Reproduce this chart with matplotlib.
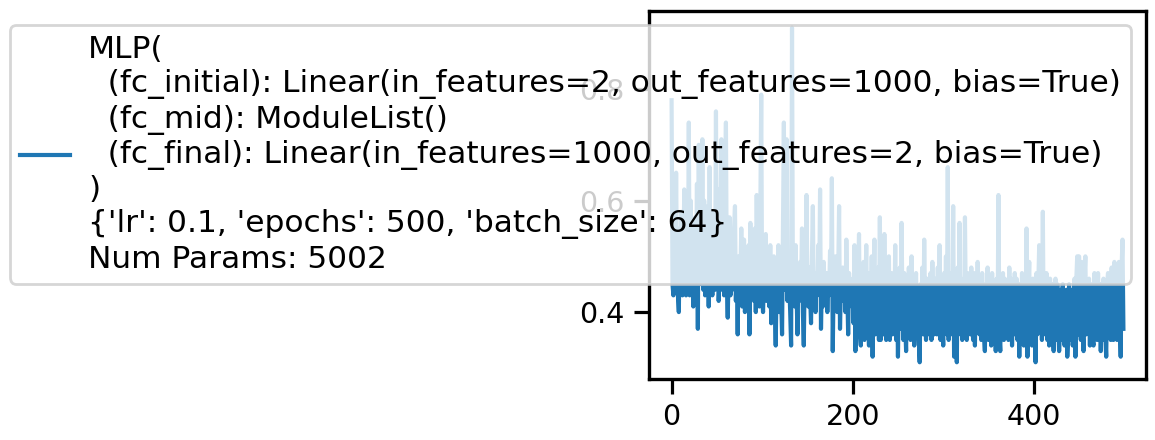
import matplotlib
matplotlib.use("Agg")
import matplotlib.pyplot as plt
import numpy as np

# ---- data ----
loss_values = [
    0.78, 0.45, 0.43, 0.52, 0.44, 0.65, 0.47, 0.43, 0.40, 0.55,
    0.44, 0.58, 0.43, 0.49, 0.62, 0.45, 0.43, 0.56, 0.44, 0.74,
    0.43, 0.60, 0.46, 0.52, 0.41, 0.48, 0.57, 0.44, 0.63, 0.37,
    0.70, 0.45, 0.55, 0.47, 0.71, 0.44, 0.60, 0.43, 0.51, 0.46,
    0.59, 0.41, 0.66, 0.44, 0.50, 0.43, 0.58, 0.47, 0.44, 0.76,
    0.45, 0.62, 0.42, 0.47, 0.55, 0.71, 0.44, 0.52, 0.43, 0.60,
    0.74, 0.45, 0.39, 0.48, 0.57, 0.43, 0.51, 0.44, 0.46, 0.55,
    0.59, 0.42, 0.48, 0.36, 0.50, 0.44, 0.47, 0.55, 0.41, 0.46,
    0.53, 0.40, 0.44, 0.49, 0.42, 0.52, 0.36, 0.56, 0.43, 0.47,
    0.50, 0.42, 0.55, 0.40, 0.61, 0.44, 0.46, 0.41, 0.58, 0.79,
    0.43, 0.40, 0.47, 0.44, 0.54, 0.42, 0.49, 0.45, 0.41, 0.52,
    0.38, 0.47, 0.43, 0.50, 0.41, 0.34, 0.46, 0.44, 0.52, 0.40,
    0.48, 0.43, 0.36, 0.55, 0.74, 0.44, 0.47, 0.71, 0.42, 0.50,
    0.45, 0.40, 0.34, 0.91, 0.44, 0.47, 0.41, 0.52, 0.44, 0.36,
    0.46, 0.42, 0.49, 0.44, 0.55, 0.40, 0.34, 0.47, 0.43, 0.61,
    0.44, 0.41, 0.48, 0.43, 0.38, 0.50, 0.59, 0.42, 0.45, 0.40,
    0.47, 0.43, 0.52, 0.44, 0.62, 0.37, 0.46, 0.41, 0.49, 0.44,
    0.42, 0.47, 0.40, 0.45, 0.43, 0.51, 0.44, 0.64, 0.33, 0.46,
    0.42, 0.50, 0.44, 0.40, 0.47, 0.59, 0.37, 0.45, 0.42, 0.48,
    0.43, 0.46, 0.40, 0.53, 0.44, 0.36, 0.47, 0.42, 0.45, 0.41,
    0.46, 0.38, 0.52, 0.33, 0.44, 0.37, 0.47, 0.54, 0.36, 0.34,
    0.45, 0.39, 0.49, 0.35, 0.43, 0.52, 0.37, 0.41, 0.34, 0.47,
    0.38, 0.50, 0.32, 0.42, 0.53, 0.36, 0.45, 0.38, 0.48, 0.35,
    0.57, 0.35, 0.41, 0.47, 0.36, 0.54, 0.40, 0.35, 0.46, 0.38,
    0.50, 0.35, 0.42, 0.47, 0.36, 0.44, 0.38, 0.52, 0.35, 0.45,
    0.32, 0.44, 0.48, 0.37, 0.56, 0.40, 0.35, 0.47, 0.38, 0.33,
    0.46, 0.37, 0.48, 0.40, 0.35, 0.50, 0.38, 0.45, 0.34, 0.43,
    0.47, 0.36, 0.42, 0.35, 0.31, 0.45, 0.38, 0.48, 0.36, 0.53,
    0.41, 0.35, 0.46, 0.36, 0.44, 0.38, 0.47, 0.35, 0.49, 0.40,
    0.36, 0.46, 0.39, 0.36, 0.48, 0.37, 0.52, 0.35, 0.44, 0.38,
    0.34, 0.47, 0.40, 0.50, 0.36, 0.66, 0.35, 0.44, 0.38, 0.47,
    0.36, 0.59, 0.32, 0.45, 0.38, 0.31, 0.48, 0.37, 0.56, 0.36,
    0.46, 0.35, 0.44, 0.38, 0.57, 0.40, 0.35, 0.47, 0.37, 0.45,
    0.36, 0.48, 0.39, 0.35, 0.47, 0.34, 0.44, 0.37, 0.49, 0.40,
    0.36, 0.46, 0.35, 0.47, 0.39, 0.36, 0.33, 0.45, 0.37, 0.48,
    0.35, 0.46, 0.38, 0.34, 0.47, 0.39, 0.35, 0.45, 0.33, 0.46,
    0.37, 0.61, 0.36, 0.33, 0.45, 0.38, 0.47, 0.35, 0.46, 0.37,
    0.44, 0.36, 0.35, 0.48, 0.37, 0.46, 0.34, 0.45, 0.36, 0.47,
    0.38, 0.46, 0.35, 0.44, 0.32, 0.45, 0.36, 0.47, 0.39, 0.34,
    0.45, 0.37, 0.55, 0.32, 0.44, 0.49, 0.36, 0.45, 0.34, 0.46,
    0.37, 0.44, 0.31, 0.47, 0.36, 0.45, 0.52, 0.38, 0.46, 0.35,
    0.58, 0.36, 0.45, 0.38, 0.47, 0.35, 0.44, 0.34, 0.46, 0.37,
    0.45, 0.36, 0.33, 0.44, 0.46, 0.35, 0.45, 0.38, 0.33, 0.37,
    0.44, 0.35, 0.45, 0.37, 0.34, 0.36, 0.44, 0.32, 0.36, 0.45,
    0.35, 0.44, 0.37, 0.34, 0.36, 0.46, 0.32, 0.46, 0.50, 0.36,
    0.50, 0.38, 0.35, 0.49, 0.37, 0.33, 0.46, 0.50, 0.36, 0.45,
    0.37, 0.46, 0.34, 0.45, 0.36, 0.35, 0.34, 0.47, 0.37, 0.46,
    0.35, 0.47, 0.37, 0.45, 0.33, 0.44, 0.35, 0.46, 0.38, 0.36,
    0.32, 0.45, 0.47, 0.36, 0.46, 0.35, 0.48, 0.37, 0.35, 0.49,
    0.36, 0.47, 0.35, 0.45, 0.49, 0.38, 0.32, 0.48, 0.53, 0.37,
]
epochs = list(range(len(loss_values)))

legend_label = (
    "MLP(\n"
    "  (fc_initial): Linear(in_features=2, out_features=1000, bias=True)\n"
    "  (fc_mid): ModuleList()\n"
    "  (fc_final): Linear(in_features=1000, out_features=2, bias=True)\n"
    ")\n"
    "{'lr': 0.1, 'epochs': 500, 'batch_size': 64}\n"
    "Num Params: 5002"
)
x_ticks = [0, 200, 400]
y_ticks = [0.4, 0.6, 0.8]

# ---- style ----
plt.rcParams['font.family'] = ['DejaVu Sans']
FS_TICK = 20.5
FS_LEG = 22.5

W, H = 1155, 440
fig = plt.figure(figsize=(W / 100, H / 100), dpi=100)
ax = fig.add_axes([649 / W, 1 - 379 / H, 497 / W, 368 / H])

ax.plot(epochs, loss_values, color='#1f77b4', lw=3.0, label=legend_label)

ax.set_xticks(x_ticks)
ax.set_yticks(y_ticks)
ax.tick_params(axis='both', which='major', labelsize=FS_TICK, length=11, width=2.3,
               pad=6.5, color='black')
for s in ax.spines.values():
    s.set_linewidth(2.4)
    s.set_color('black')

leg = ax.legend(loc='upper left', bbox_to_anchor=(9.5 / W, 1 - 25 / H),
                bbox_transform=fig.transFigure, borderaxespad=0,
                fontsize=FS_LEG, framealpha=0.8, edgecolor='0.8',
                handlelength=1.6, handletextpad=0.6, borderpad=0.32)
for t in leg.get_texts():
    t.set_linespacing(1.23)
leg.get_frame().set_linewidth(2.0)

fig.savefig('out.png', dpi=100)
